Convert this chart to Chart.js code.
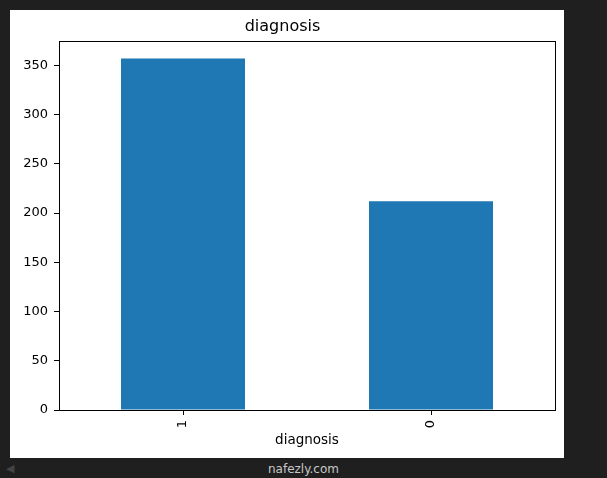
<!DOCTYPE html>
<html>
<head>
<meta charset="utf-8">
<script src="https://cdn.jsdelivr.net/npm/chart.js@4"></script>
<style>
  body { margin: 0; background: #1f1f1f; width: 607px; height: 478px; overflow: hidden; position: relative; font-family: "DejaVu Sans", sans-serif; }
  #fig { position: absolute; left: 10px; top: 10px; width: 554px; height: 448px; background: #fff; }
  #mark { position: absolute; left: 0; width: 607px; top: 462px; text-align: center; color: #c8c8c8; font-size: 12px; }
  #arrow { position: absolute; left: 6px; top: 462px; color: #444; font-size: 11px; }
</style>
</head>
<body>
<div id="fig"><canvas id="chart" width="554" height="448"></canvas></div>
<div id="arrow">◀</div>
<div id="mark">nafezly.com</div>
<script>
// counts per diagnosis class
const categories = ['1', '0'];
const counts = [357, 212];
const yTicks = [0, 50, 100, 150, 200, 250, 300, 350];

const barColor = '#1f77b4';

// frame round the plot area (matplotlib style spines)
const framePlugin = {
    id: 'frame',
    afterDraw(chart) {
        const a = chart.chartArea;
        const ctx = chart.ctx;
        ctx.save();
        ctx.strokeStyle = '#000';
        ctx.lineWidth = 1;
        ctx.strokeRect(Math.round(a.left) + 0.5, Math.round(a.top) + 0.5,
            Math.round(a.right - a.left), Math.round(a.bottom - a.top));
        ctx.restore();
    }
};

window.onload = () => {
    const ctx = document.getElementById('chart').getContext('2d');
    new Chart(ctx, {
        type: 'bar',
        data: {
            labels: categories,
            datasets: [{
                label: 'diagnosis',
                data: counts,
                backgroundColor: barColor,
                borderWidth: 0,
                categoryPercentage: 1.0,
                barPercentage: 0.5
            }]
        },
        plugins: [framePlugin],
        options: {
            responsive: false,
            animation: false,
            layout: { padding: { left: 0, right: 9, top: 0, bottom: 0 } },
            plugins: {
                legend: { display: false },
                tooltip: { enabled: false },
                title: {
                    display: true,
                    text: 'diagnosis',
                    color: '#000',
                    font: { family: 'DejaVu Sans', size: 16, weight: 'normal' },
                    padding: { top: 7, bottom: 4.5 }
                }
            },
            scales: {
                x: {
                    afterFit: (s) => { s.height = 48; },
                    border: { display: false },
                    grid: { offset: false, drawOnChartArea: false, drawTicks: true, tickLength: 5, color: '#000' },
                    ticks: {
                        color: '#000',
                        font: { family: 'DejaVu Sans', size: 13 },
                        minRotation: 90,
                        maxRotation: 90,
                        padding: 5
                    },
                    title: {
                        display: true,
                        text: 'diagnosis',
                        color: '#000',
                        font: { family: 'DejaVu Sans', size: 13.5 },
                        padding: { top: 0, bottom: 9 }
                    }
                },
                y: {
                    min: 0,
                    max: 375,
                    afterFit: (s) => { s.width = 49; },
                    afterBuildTicks: (s) => { s.ticks = yTicks.map(v => ({ value: v })); },
                    border: { display: false },
                    grid: { drawOnChartArea: false, drawTicks: true, tickLength: 5, color: '#000' },
                    ticks: {
                        color: '#000',
                        font: { family: 'DejaVu Sans', size: 13 },
                        padding: 6
                    }
                }
            }
        }
    });
};
</script>
</body>
</html>
